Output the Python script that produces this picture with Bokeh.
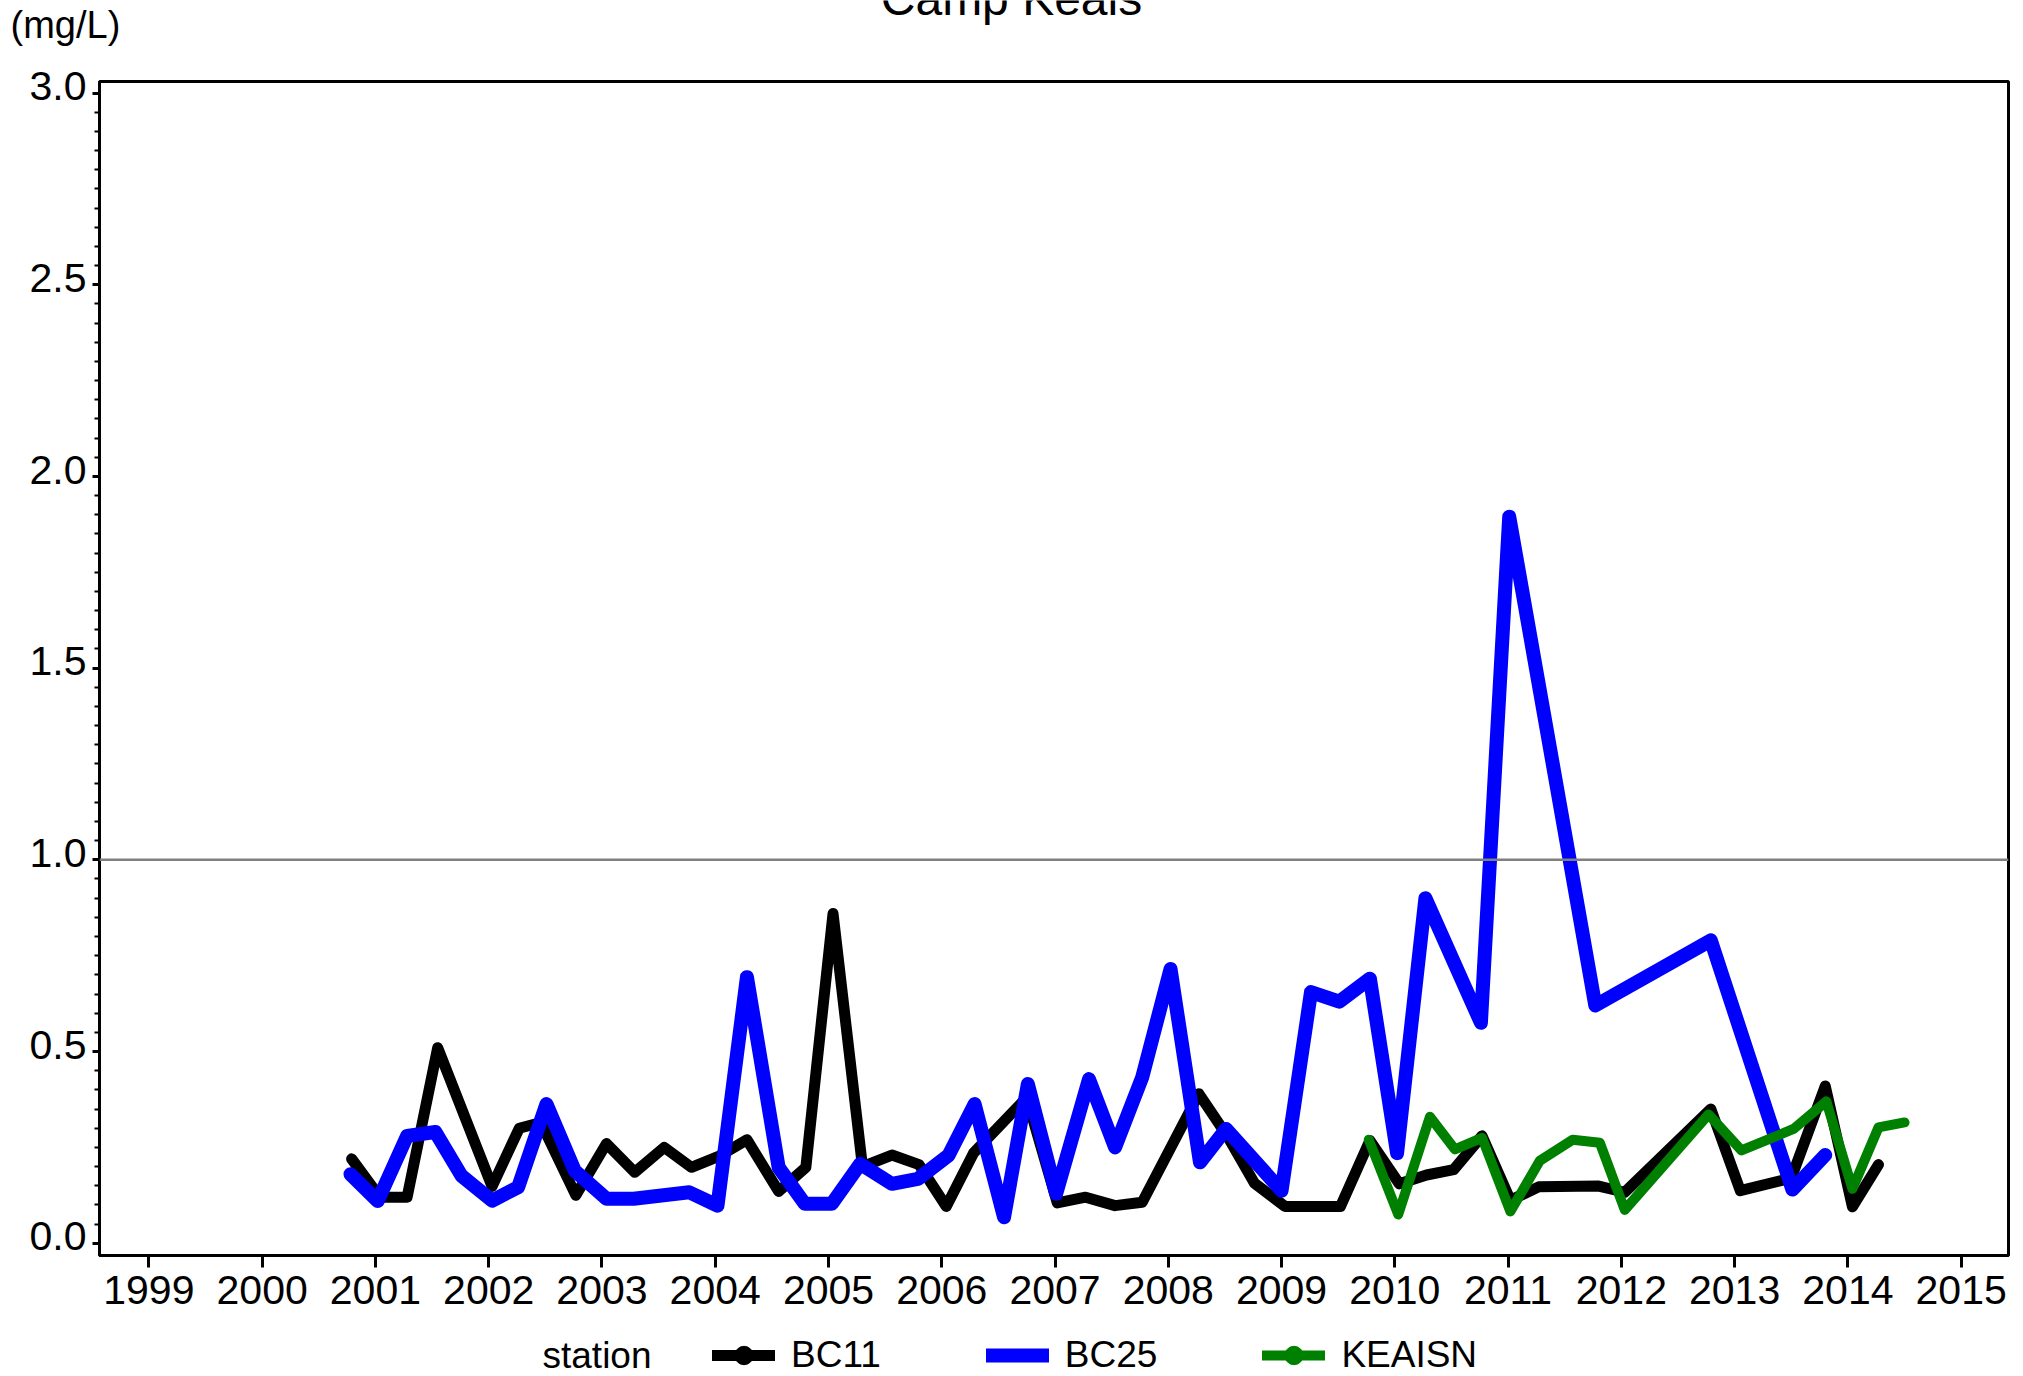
from bokeh.plotting import figure
from bokeh.layouts import column
from bokeh.models import (Range1d, FixedTicker, SingleIntervalTicker, NumeralTickFormatter,
                          Span, Legend, LegendItem, ColumnDataSource, LinearAxis,
                          CustomLabelingPolicy)
from bokeh.core.properties import value
from bokeh.embed import file_html
from bokeh.resources import INLINE

# ---------------- data ----------------
title_text = "Camp Keals"
unit_text = "(mg/L)"
legend_title = "station"
stations = ["BC11", "BC25", "KEAISN"]
station_colors = ["#000000", "#0000FF", "#008000"]
station_widths = [11, 14, 10]
x_tick_years = list(range(1999, 2016))

bc11_year = [2000.79, 2001.04, 2001.28, 2001.55, 2002.03, 2002.27, 2002.46, 2002.77,
             2003.04, 2003.29, 2003.55, 2003.79, 2004.04, 2004.28, 2004.56, 2004.80,
             2005.04, 2005.30, 2005.56, 2005.80, 2006.04, 2006.28, 2006.75, 2007.02,
             2007.27, 2007.53, 2007.77, 2008.27, 2008.52, 2008.76, 2009.03, 2009.52,
             2009.78, 2010.04, 2010.28, 2010.52, 2010.77, 2011.02, 2011.27, 2011.80,
             2012.03, 2012.79, 2013.05, 2013.50, 2013.80, 2014.04, 2014.27]
bc11_value = [0.22, 0.12, 0.12, 0.51, 0.148, 0.30, 0.315, 0.125,
              0.26, 0.185, 0.25, 0.198, 0.228, 0.27, 0.135, 0.198,
              0.86, 0.20, 0.23, 0.205, 0.096, 0.235, 0.38, 0.105,
              0.12, 0.098, 0.107, 0.39, 0.28, 0.157, 0.096, 0.096,
              0.268, 0.155, 0.178, 0.192, 0.28, 0.112, 0.147, 0.149,
              0.133, 0.35, 0.137, 0.17, 0.41, 0.095, 0.205]

bc25_year = [2000.78, 2001.02, 2001.28, 2001.53, 2001.76, 2002.03, 2002.26, 2002.51,
             2002.76, 2003.04, 2003.28, 2003.77, 2004.02, 2004.28, 2004.56, 2004.79,
             2005.03, 2005.28, 2005.56, 2005.79, 2006.06, 2006.29, 2006.55, 2006.76,
             2007.01, 2007.30, 2007.53, 2007.77, 2008.02, 2008.28, 2008.51, 2009.00,
             2009.26, 2009.51, 2009.78, 2010.02, 2010.27, 2010.76, 2011.01, 2011.77,
             2012.79, 2013.51, 2013.80]
bc25_value = [0.18, 0.11, 0.28, 0.29, 0.176, 0.111, 0.146, 0.363,
              0.189, 0.116, 0.116, 0.133, 0.098, 0.694, 0.198, 0.103,
              0.103, 0.207, 0.155, 0.168, 0.229, 0.363, 0.068, 0.415,
              0.129, 0.428, 0.25, 0.433, 0.715, 0.211, 0.298, 0.137,
              0.655, 0.63, 0.69, 0.235, 0.90, 0.575, 1.895, 0.62,
              0.79, 0.14, 0.23]

keaisn_year = [2009.77, 2010.03, 2010.31, 2010.53, 2010.77, 2011.02, 2011.28, 2011.57,
               2011.81, 2012.03, 2012.77, 2013.06, 2013.52, 2013.81, 2014.04, 2014.27,
               2014.50]
keaisn_value = [0.27, 0.075, 0.33, 0.245, 0.275, 0.083, 0.215, 0.27,
                0.262, 0.087, 0.336, 0.242, 0.298, 0.37, 0.142, 0.302,
                0.315]

reference_level = 1.0

FONT = "Liberation Sans"
W = 2015
Y0, Y1 = -0.032, 3.030
LABEL_LIFT = 0.018   # y tick labels sit slightly above their ticks in the original


def strip(height):
    # full-canvas frame, screen-like coordinates: x in [-W, 0], y downwards
    f = figure(width=W, height=height, x_range=Range1d(-W, 0), y_range=Range1d(height, 0),
               x_axis_type=None, y_axis_type=None, title=None,
               min_border_left=0, min_border_right=0, min_border_top=0, min_border_bottom=0,
               output_backend="svg", toolbar_location=None)
    f.frame_align = False
    f.outline_line_color = None
    f.grid.visible = False
    f.background_fill_color = "white"
    f.border_fill_color = "white"
    return f


# ---------------- top strip: title and unit ----------------
top = strip(50)
top.text(x=[1011 - W], y=[-2], text=[title_text], text_font=value(FONT), text_font_size="48px",
         text_align="center", text_baseline="alphabetic", text_color="black")
top.text(x=[10 - W], y=[24], text=[unit_text], text_font=value(FONT), text_font_size="38px",
         text_align="left", text_baseline="middle", text_color="black")

# ---------------- main plot ----------------
p = figure(frame_width=1909, frame_height=1174, title=None,
           min_border_left=99, min_border_right=7, min_border_top=31, min_border_bottom=70,
           x_range=Range1d(1998.564, 2015.418), y_range=Range1d(Y0, Y1),
           output_backend="svg", toolbar_location=None)
p.frame_align = False
p.extra_y_ranges = {"ylab": Range1d(Y0 - LABEL_LIFT, Y1 - LABEL_LIFT)}

p.background_fill_color = "white"
p.border_fill_color = "white"
p.outline_line_color = "black"
p.outline_line_width = 3
p.xgrid.visible = False
p.ygrid.visible = False

p.xaxis.ticker = FixedTicker(ticks=x_tick_years, minor_ticks=[])
p.xaxis.formatter = NumeralTickFormatter(format="0")
p.yaxis.ticker = SingleIntervalTicker(interval=0.5, num_minor_ticks=10)
p.yaxis.formatter = NumeralTickFormatter(format="0.0")

for ax in (p.xaxis[0], p.yaxis[0]):
    ax.axis_line_color = "black"
    ax.axis_line_width = 3
    ax.major_tick_line_color = "black"
    ax.major_tick_line_width = 3
    ax.minor_tick_line_color = "black"
    ax.minor_tick_line_width = 2
    ax.major_tick_in = 0
    ax.minor_tick_in = 0
    ax.major_label_text_font = FONT
    ax.major_label_text_font_size = "41px"
    ax.major_label_text_color = "black"

p.xaxis.major_tick_out = 12
p.xaxis.major_label_standoff = 8
p.yaxis.major_tick_out = 7
p.yaxis.minor_tick_out = 5
p.yaxis.major_label_standoff = 0
# the tick axis draws no labels; they are drawn by the label axis below
p.yaxis.major_label_text_font_size = "0px"
p.yaxis.major_label_policy = CustomLabelingPolicy(code="return []")

ylab_axis = LinearAxis(y_range_name="ylab",
                       ticker=SingleIntervalTicker(interval=0.5, num_minor_ticks=0),
                       formatter=NumeralTickFormatter(format="0.0"),
                       axis_line_color=None, major_tick_line_color=None,
                       minor_tick_line_color=None, major_tick_in=0, major_tick_out=0,
                       minor_tick_in=0, minor_tick_out=0, major_label_standoff=6,
                       major_label_text_font=FONT, major_label_text_font_size="41px",
                       major_label_text_color="black")
p.add_layout(ylab_axis, "left")

p.add_layout(Span(location=reference_level, dimension="width",
                  line_color="#808080", line_width=2.5))

series = [(bc11_year, bc11_value), (bc25_year, bc25_value), (keaisn_year, keaisn_value)]
for color, lw, (xs, ys) in zip(station_colors, station_widths, series):
    src = ColumnDataSource(dict(x=xs, y=ys))
    p.line("x", "y", source=src, line_color=color, line_width=lw,
           line_join="round", line_cap="round")

# ---------------- bottom strip: legend ----------------
bottom = strip(51)
bottom.text(x=[542 - W], y=[30], text=[legend_title], text_font=value(FONT), text_font_size="37px",
            text_align="left", text_baseline="middle", text_color="black")
items = []
for name, color, lw, (xs, ys) in zip(stations, station_colors, station_widths, series):
    # legend proxies: same series, lying outside this strip's visible range
    r = bottom.line(x=xs, y=ys, line_color=color, line_width=lw, line_cap="round")
    rends = [r]
    if name != "BC25":
        rends.append(bottom.scatter(x=xs, y=ys, size=lw + 3, marker="circle",
                                    fill_color=color, line_color=color))
    items.append(LegendItem(label=name, renderers=rends))

legend = Legend(items=items, orientation="horizontal", location=(712, -2),
                glyph_width=63, glyph_height=46, label_height=46, label_standoff=16,
                spacing=105, padding=0, margin=0, border_line_color=None,
                background_fill_alpha=0, label_text_font=FONT, label_text_font_size="37px",
                label_text_color="black", label_text_baseline="middle")
bottom.add_layout(legend)

layout = column(top, p, bottom, spacing=0)
open("out.html", "w").write(file_html(layout, INLINE))
